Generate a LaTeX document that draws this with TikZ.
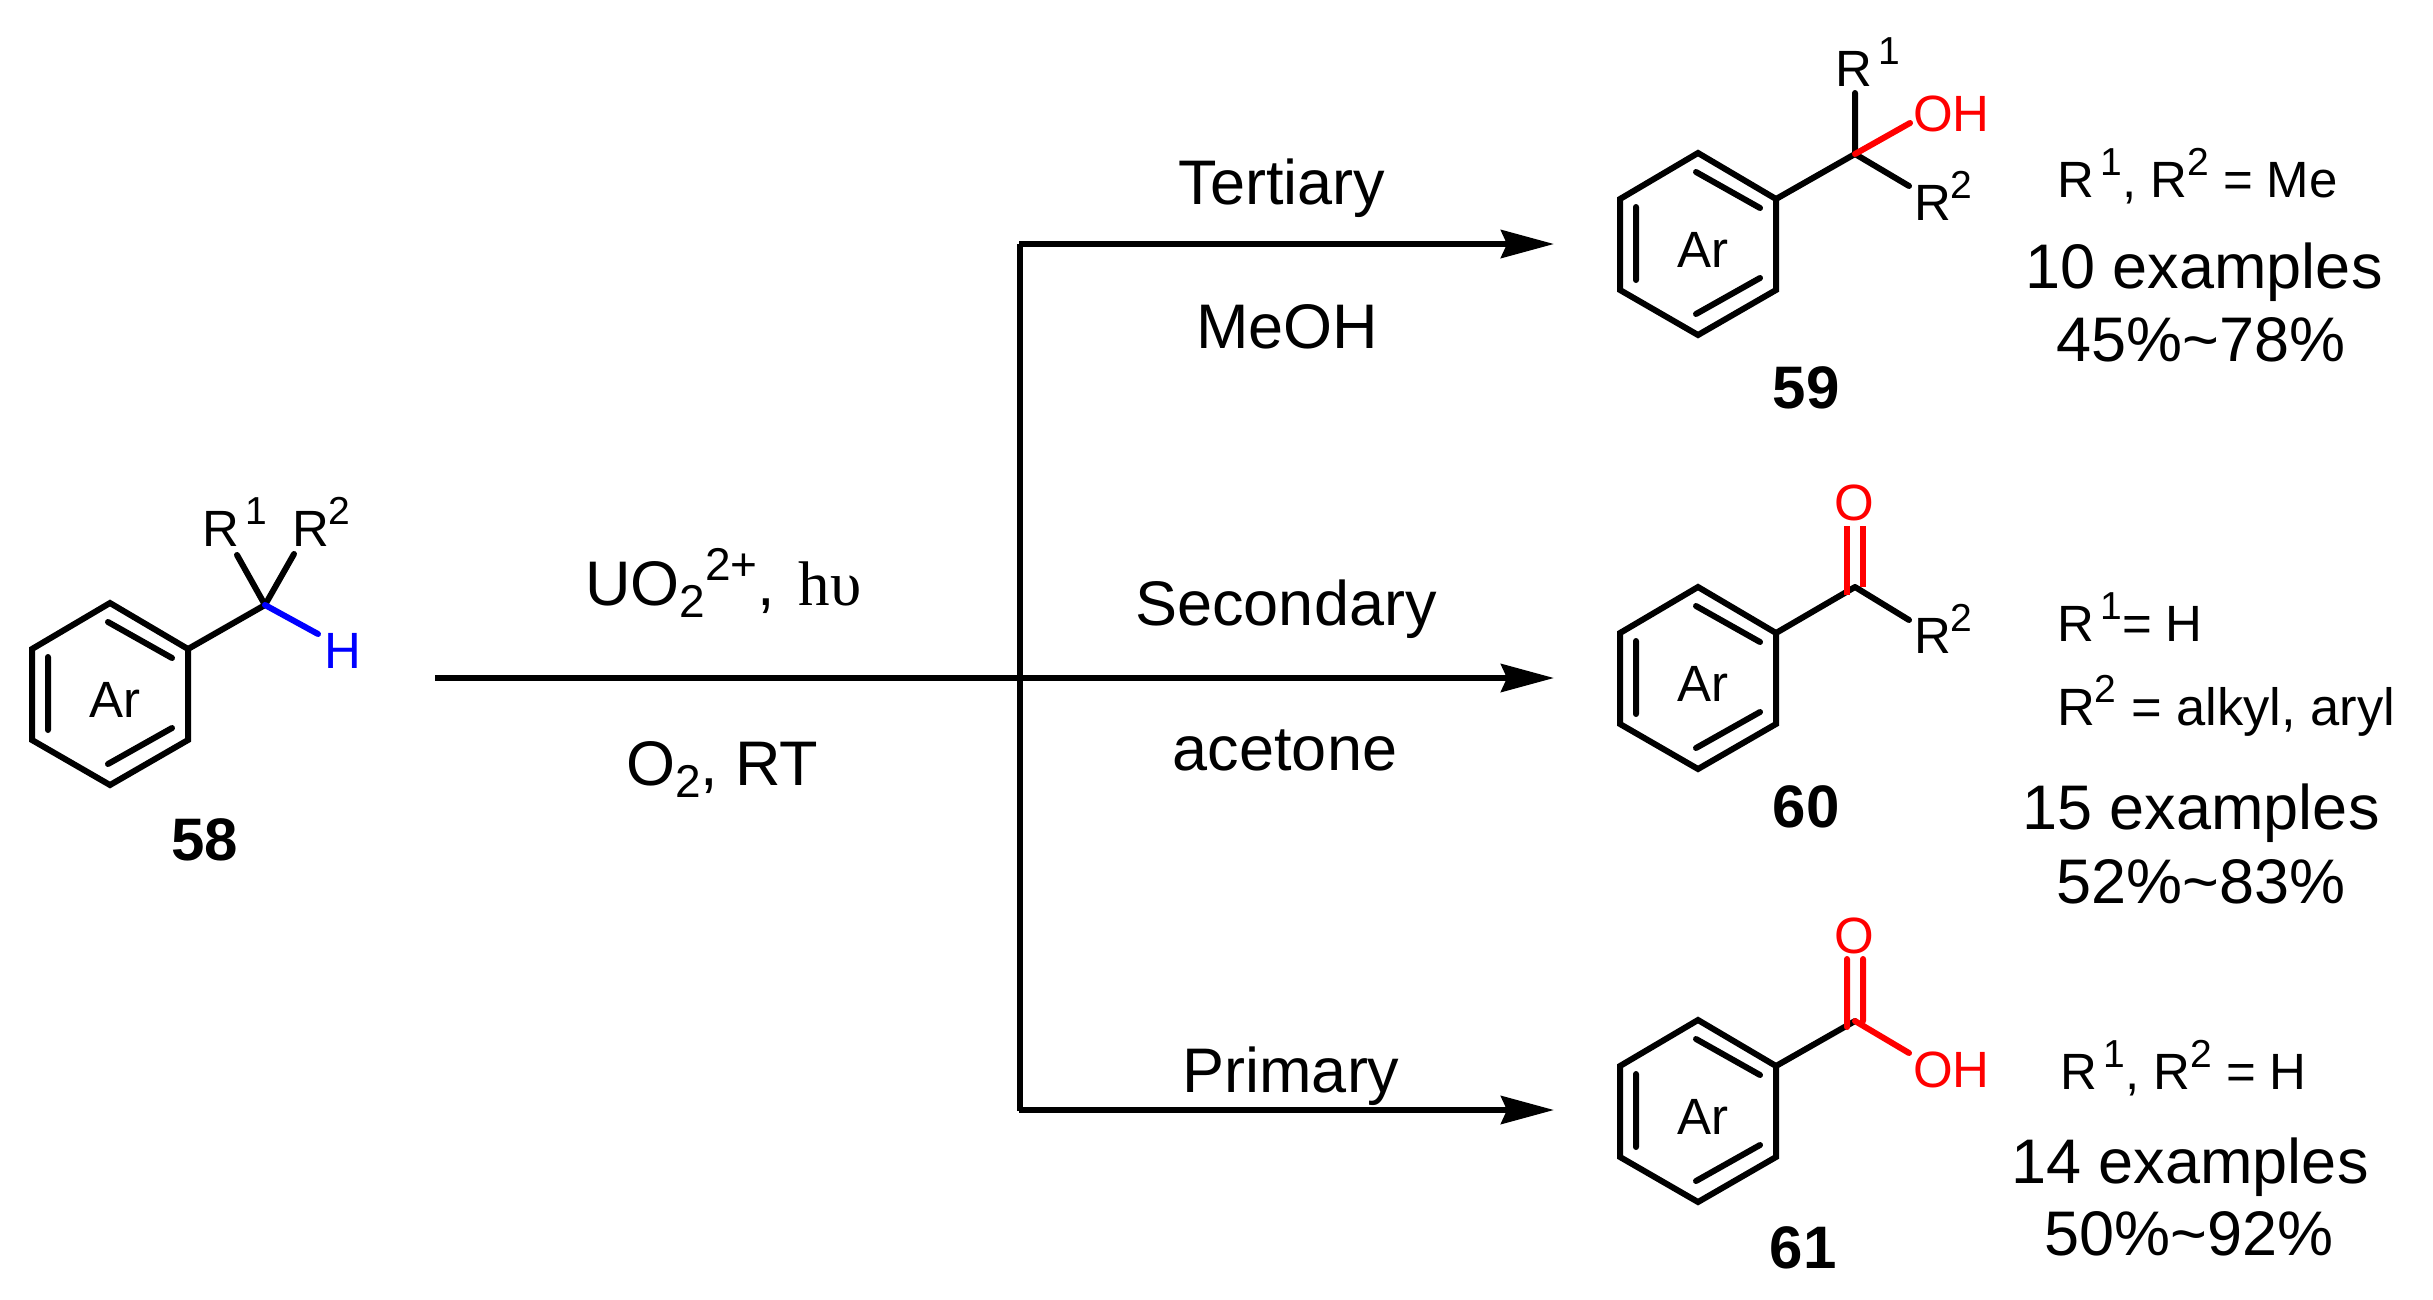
\documentclass[tikz,border=0pt]{standalone}
\usepackage{fontspec}
\setmainfont{Liberation Sans}
\newfontfamily\serifface{Liberation Serif}
\usetikzlibrary{arrows.meta}
\definecolor{oxred}{RGB}{255,0,0}
\definecolor{hblue}{RGB}{0,0,255}
\newcommand{\szbig}{\fontsize{63}{70}\selectfont}
\newcommand{\szmid}{\fontsize{51}{58}\selectfont}
\newcommand{\szcap}{\fontsize{52.5}{58}\selectfont}
\newcommand{\szbold}{\fontsize{60}{66}\selectfont\bfseries}
\newcommand{\sups}[1]{\raisebox{0.42em}{\fontsize{39}{40}\selectfont #1}}
\newcommand{\bigsup}[1]{\raisebox{25pt}{\fontsize{46}{48}\selectfont #1}}
\newcommand{\bigsub}[1]{\raisebox{-12pt}{\fontsize{46}{48}\selectfont #1}}
\tikzset{
  bond/.style={line width=6pt,line cap=round,line join=miter},
  flow/.style={line width=6pt},
  flowarrow/.style={line width=6pt,-{Stealth[length=53pt,width=28pt,inset=6pt]}},
  lab/.style={anchor=base west,inner sep=0pt,outer sep=0pt},
  labc/.style={anchor=base,inner sep=0pt,outer sep=0pt},
  big/.style={font=\szbig},
  mid/.style={font=\szmid},
  captext/.style={font=\szcap},
  num/.style={font=\szbold},
}
\newcommand{\arring}[3]{%
  \begin{scope}[shift={(#1,#2)},name prefix=#3]
    \coordinate (a) at (78,0);
    \coordinate (b) at (156,46);
    \coordinate (c) at (156,137);
    \coordinate (d) at (78,182);
    \coordinate (e) at (0,137);
    \coordinate (f) at (0,46);
    \coordinate (i1) at (76,19);
    \coordinate (i2) at (140,55);
    \coordinate (i3) at (16,54);
    \coordinate (i4) at (16,127);
    \coordinate (i5) at (76,161);
    \coordinate (i6) at (140,125);
    \draw[bond] (a)--(b)--(c)--(d)--(e)--(f)--cycle;
    \draw[bond] (i1)--(i2) (i3)--(i4) (i5)--(i6);
    \node[labc,mid] (ar) at (83,114) {Ar};
  \end{scope}}
\begin{document}
\begin{tikzpicture}[x=1pt,y=-1pt]
\useasboundingbox (0,0) rectangle (2433,1299);
% --- 58
\arring{32}{603}{m}
\coordinate (cm) at (265,605);
\coordinate (mr1) at (237,555);
\coordinate (mr2) at (294,554);
\coordinate (mh) at (318,634);
\draw[bond] (mb)--(cm) (cm)--(mr1) (cm)--(mr2);
\draw[bond,hblue] (cm)--(mh);
\node[lab,mid] (tr1) at (202,546) {R\sups{\,1}};
\node[lab,mid] (tr2) at (292,546) {R\sups{2}};
\node[lab,mid,text=hblue] (th) at (324,668) {H};
\node[labc,num] (n58) at (205,860) {58};
% --- flow
\coordinate (start) at (435,678);
\coordinate (j1) at (1020,244);
\coordinate (j2) at (1020,678);
\coordinate (j3) at (1020,1111);
\coordinate (j1h) at (1019,244);
\coordinate (j3h) at (1019,1110);
\coordinate (e1) at (1554,244);
\coordinate (e2) at (1554,678);
\coordinate (e3) at (1554,1110);
\draw[flow] (j1)--(j3);
\draw[flowarrow] (j1h)--(e1);
\draw[flowarrow] (start)--(e2);
\draw[flowarrow] (j3h)--(e3);
\node[lab,big] (uo) at (585,605) {UO\bigsub{2}\bigsup{2+},\hspace{6pt} {\serifface hυ}};
\node[lab,big] (otwo) at (626,785) {O\bigsub{2}, RT};
\node[labc,big] (tert) at (1282,204) {Tertiary};
\node[labc,big] (meoh) at (1287,348) {MeOH};
\node[labc,big] (sec) at (1286,625) {Secondary};
\node[labc,big] (acet) at (1285,770) {acetone};
\node[labc,big] (prim) at (1291,1092) {Primary};
% --- 59
\arring{1620}{153}{p}
\coordinate (cp) at (1855,154);
\coordinate (pr1) at (1855,93);
\coordinate (poh) at (1910,123);
\coordinate (pr2) at (1909,186);
\draw[bond] (pb)--(cp) (cp)--(pr1) (cp)--(pr2);
\draw[bond,oxred] (cp)--(poh);
\node[lab,mid] (ptr1) at (1835,86) {R\sups{\,1}};
\node[lab,mid,text=oxred] (ptoh) at (1913,131) {OH};
\node[lab,mid] (ptr2) at (1914,220) {R\sups{2}};
\node[labc,num] (n59) at (1806,408) {59};
\node[lab,mid] (c59) at (2057,197) {R\sups{\,1}, R\sups{2} = Me};
\node[labc,big] (ex59) at (2204,288) {10 examples};
\node[labc,big] (y59) at (2201,361) {45\%\textasciitilde78\%};
% --- 60
\arring{1620}{587}{q}
\coordinate (cq) at (1855,587);
\coordinate (qr2) at (1909,620);
\coordinate (qo1a) at (1847,526);
\coordinate (qo1b) at (1847,595);
\coordinate (qo2a) at (1863,526);
\coordinate (qo2b) at (1863,587);
\draw[bond] (qb)--(cq) (cq)--(qr2);
\draw[line width=6pt,oxred] (qo1a)--(qo1b) (qo2a)--(qo2b);
\node[labc,mid,text=oxred] (qto) at (1854,520) {O};
\node[lab,mid] (qtr2) at (1914,653) {R\sups{2}};
\node[labc,num] (n60) at (1806,827) {60};
\node[lab,mid] (c60a) at (2057,641) {R\sups{\,1}= H};
\node[lab,captext] (c60b) at (2057,725) {R\sups{2} = alkyl, aryl};
\node[labc,big] (ex60) at (2201,829) {15 examples};
\node[labc,big] (y60) at (2201,903) {52\%\textasciitilde83\%};
% --- 61
\arring{1620}{1020}{s}
\coordinate (cs) at (1855,1021);
\coordinate (soh) at (1909,1053);
\coordinate (so1a) at (1847,959);
\coordinate (so1b) at (1847,1027);
\coordinate (so2a) at (1863,959);
\coordinate (so2b) at (1863,1021);
\draw[bond] (sb)--(cs);
\draw[bond,oxred] (cs)--(soh) (so1a)--(so1b) (so2a)--(so2b);
\node[labc,mid,text=oxred] (sto) at (1854,953) {O};
\node[lab,mid,text=oxred] (stoh) at (1913,1087) {OH};
\node[labc,num] (n61) at (1803,1268) {61};
\node[lab,mid] (c61) at (2060,1089) {R\sups{\,1}, R\sups{2} = H};
\node[labc,big] (ex61) at (2190,1183) {14 examples};
\node[labc,big] (y61) at (2189,1255) {50\%\textasciitilde92\%};
\end{tikzpicture}
\end{document}
